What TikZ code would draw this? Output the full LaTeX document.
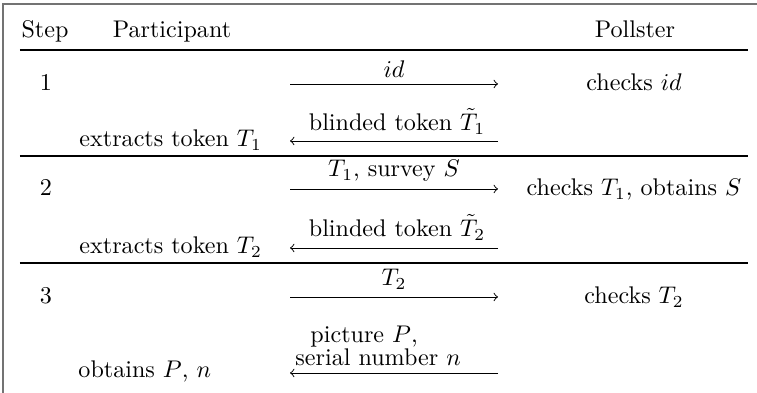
\documentclass[tikz,border=0pt]{standalone}
\usepackage{amsmath}
\begin{document}
\begin{tikzpicture}[x=0.415pt,y=-0.415pt,
  txt/.style={inner sep=0pt,anchor=base},
  txtl/.style={inner sep=0pt,anchor=base west},
  msg/.style={line width=0.4pt,-to},
  heavyrule/.style={line width=0.8pt},
  lightrule/.style={line width=0.5pt},
  frameline/.style={black!55,line width=0.6pt}]
\useasboundingbox (0,0) rectangle (757,393);

% outer frame (top and left edges)
\coordinate (fbl) at (3,393);
\coordinate (ftl) at (3,4);
\coordinate (ftr) at (757,4);
\draw[frameline] (fbl) -- (ftl) -- (ftr);

% table rules
\coordinate (r0l) at (20,50);  \coordinate (r0r) at (748,50);
\coordinate (r1l) at (20,156); \coordinate (r1r) at (748,156);
\coordinate (r2l) at (20,263); \coordinate (r2r) at (748,263);
\draw[heavyrule] (r0l) -- (r0r);
\draw[lightrule] (r1l) -- (r1r);
\draw[lightrule] (r2l) -- (r2r);

% header
\node[txt] (hstep) at (45,38) {Step};
\node[txt] (hpart) at (172,38) {Participant};
\node[txt] (hpoll) at (635,38) {Pollster};

% step 1
\node[txt] (s1) at (46,91) {1};
\node[txt] (p1) at (634,91) {checks $id$};
\coordinate (a1l) at (290,84); \coordinate (a1r) at (498,84);
\draw[msg] (a1l) -- (a1r);
\node[txt] (m1) at (394,78) {$id$};
\coordinate (a2l) at (290,141); \coordinate (a2r) at (498,141);
\draw[msg] (a2r) -- (a2l);
\node[txt] (m2) at (397,131) {blinded token $\tilde{T}_1$};
\node[txtl] (u1) at (79,147) {extracts token $T_1$};

% step 2
\node[txt] (s2) at (46,196) {2};
\node[txt] (p2) at (634,196) {checks $T_1$, obtains $S$};
\coordinate (a3l) at (290,189); \coordinate (a3r) at (498,189);
\draw[msg] (a3l) -- (a3r);
\node[txt] (m3) at (394,177) {$T_1$, survey $S$};
\coordinate (a4l) at (290,248); \coordinate (a4r) at (498,248);
\draw[msg] (a4r) -- (a4l);
\node[txt] (m4) at (397,237) {blinded token $\tilde{T}_2$};
\node[txtl] (u2) at (79,254) {extracts token $T_2$};

% step 3
\node[txt] (s3) at (46,304) {3};
\node[txt] (p3) at (634,304) {checks $T_2$};
\coordinate (a5l) at (290,297); \coordinate (a5r) at (498,297);
\draw[msg] (a5l) -- (a5r);
\node[txt] (m5) at (394,286) {$T_2$};
\coordinate (a6l) at (290,373); \coordinate (a6r) at (498,373);
\draw[msg] (a6r) -- (a6l);
\node[txtl] (m6a) at (310,343) {picture $P$,};
\node[txtl] (m6b) at (295,366) {serial number $n$};
\node[txtl] (u3) at (78,378) {obtains $P$, $n$};
\end{tikzpicture}
\end{document}
